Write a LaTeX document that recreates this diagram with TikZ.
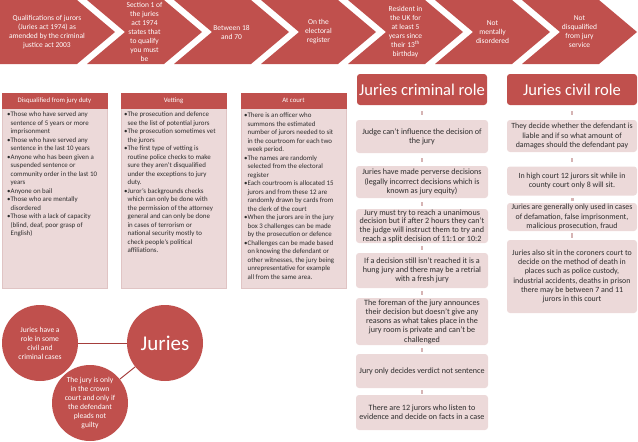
\documentclass[tikz,border=0pt]{standalone}
\usepackage{fontspec}
\setmainfont{Carlito}
\definecolor{jred}{RGB}{192,80,77}
\definecolor{jpink}{RGB}{236,217,217}
\definecolor{jpinkd}{RGB}{224,196,196}
\definecolor{jmark}{RGB}{214,180,180}
\definecolor{jline}{RGB}{165,62,60}
\definecolor{jtext}{RGB}{45,45,45}
\newcommand{\jci}{\hphantom{•}}
\tikzset{
  chevtext/.style={text=white, font=\fontsize{7.5}{9}\selectfont, align=center, inner sep=0},
  colhead/.style={fill=jred, draw=jred, line width=0.4, text=white, font=\fontsize{6.8}{7}\selectfont, minimum width=105, minimum height=15, inner sep=0},
  colbody/.style={fill=jpink, draw=jpinkd, line width=0.4, minimum width=105, minimum height=180, inner sep=0},
  coltext/.style={font=\fontsize{6.9}{8.5}\selectfont, align=left, inner sep=0, anchor=north west, text=jtext},
  rolehead/.style={fill=jred, rounded corners=3, text=white, font=\fontsize{16.5}{18}\selectfont, minimum height=31, inner sep=0},
  rolebox/.style={fill=jpink, rounded corners=3, text=jtext, font=\fontsize{8.1}{9.2}\selectfont, align=center, inner sep=0},
  rolemark/.style={fill=jmark, minimum width=2.5, minimum height=4, inner sep=0},
  jcircle/.style={circle, fill=jred, minimum size=76, inner sep=0, text=white, align=center, font=\fontsize{7.6}{9}\selectfont},
  jconn/.style={draw=jline, line width=1}
}
\begin{document}
\begin{tikzpicture}[x=1pt,y=-1pt]
\useasboundingbox (0,0) rectangle (638,442);
% chevrons
\fill[jred] (0,0) -- (77,0) -- (115,32) -- (77,64) -- (0,64) -- cycle;
\foreach \k in {1,...,6}{
  \fill[jred] ({87*\k},0) -- ({87*\k+77},0) -- ({87*\k+115},32) -- ({87*\k+77},64) -- ({87*\k},64) -- ({87*\k+38},32) -- cycle;
}
\node[chevtext] (c0) at (47,32) {Qualifications of jurors\\(Juries act 1974) as\\amended by the criminal\\justice act 2003};
\node[chevtext] (c1) at (144.5,32) {Section 1 of\\the juries\\act 1974\\states that\\to qualify\\you must\\be};
\node[chevtext] (c2) at (231.5,32) {Between 18\\and 70};
\node[chevtext] (c3) at (318.5,32) {On the\\electoral\\register};
\node[chevtext] (c4) at (405.5,32) {Resident in\\the UK for\\at least 5\\years since\\their 13\textsuperscript{th}\\birthday};
\node[chevtext] (c5) at (492.5,32) {Not\\mentally\\disordered};
\node[chevtext] (c6) at (579.5,32) {Not\\disqualified\\from jury\\service};
% columns
\node[colbody] (b1) at (54.5,198) {};
\node[colhead] (h1) at (54.5,100.5) {Disqualified from jury duty};
\node[colbody] (b2) at (173.5,198) {};
\node[colhead] (h2) at (173.5,100.5) {Vetting};
\node[colbody] (b3) at (293.5,198) {};
\node[colhead] (h3) at (293.5,100.5) {At court};
\node[coltext] (t1) at (7,112) {•Those who have served any\\
\jci sentence of 5 years or more\\
\jci imprisonment\\
•Those who have served any\\
\jci sentence in the last 10 years\\
•Anyone who has been given a\\
\jci suspended sentence or\\
\jci community order in the last 10\\
\jci years\\
•Anyone on bail\\
•Those who are mentally\\
\jci disordered\\
•Those with a lack of capacity\\
\jci (blind, deaf, poor grasp of\\
\jci English)};
\node[coltext] (t2) at (124,112) {•The prosecution and defence\\
\jci see the list of potential jurors\\
•The prosecution sometimes vet\\
\jci the jurors\\
•The first type of vetting is\\
\jci routine police checks to make\\
\jci sure they aren't disqualified\\
\jci under the exceptions to jury\\
\jci duty.\\
•Juror's backgrounds checks\\
\jci which can only be done with\\
\jci the permission of the attorney\\
\jci general and can only be done\\
\jci in cases of terrorism or\\
\jci national security mostly to\\
\jci check people's political\\
\jci affiliations.};
\node[coltext] (t3) at (244,113) {•There is an officer who\\
\jci summons the estimated\\
\jci number of jurors needed to sit\\
\jci in the courtroom for each two\\
\jci week period.\\
•The names are randomly\\
\jci selected from the electoral\\
\jci register\\
•Each courtroom is allocated 15\\
\jci jurors and from these 12 are\\
\jci randomly drawn by cards from\\
\jci the clerk of the court\\
•When the jurors are in the jury\\
\jci box 3 challenges can be made\\
\jci by the prosecution or defence\\
•Challenges can be made based\\
\jci on knowing the defendant or\\
\jci other witnesses, the jury being\\
\jci unrepresentative for example\\
\jci all from the same area.};
% criminal role
\node[rolehead, minimum width=130] (crh) at (422,89.5) {Juries criminal role};
\node[rolebox, minimum width=132, minimum height=33] (cr1) at (422,136.5) {Judge can't influence the decision of\\the jury};
\node[rolebox, minimum width=132, minimum height=32] (cr2) at (422,182) {Juries have made perverse decisions\\(legally incorrect decisions which is\\known as jury equity)};
\node[rolebox, minimum width=132, minimum height=34, font=\fontsize{8.1}{8.7}\selectfont] (cr3) at (422,226) {Jury must try to reach a unanimous\\decision but if after 2 hours they can't\\the judge will instruct them to try and\\reach a split decision of 11:1 or 10:2};
\node[rolebox, minimum width=132, minimum height=35] (cr4) at (422,270.5) {If a decision still isn't reached it is a\\hung jury and there may be a retrial\\with a fresh jury};
\node[rolebox, minimum width=132, minimum height=47] (cr5) at (422,321.5) {The foreman of the jury announces\\their decision but doesn't give any\\reasons as what takes place in the\\jury room is private and can't be\\challenged};
\node[rolebox, minimum width=132, minimum height=34] (cr6) at (422,371) {Jury only decides verdict not sentence};
\node[rolebox, minimum width=132, minimum height=35] (cr7) at (422,412.5) {There are 12 jurors who listen to\\evidence and decide on facts in a case};
\foreach \y/\n in {112.5/a,159.5/b,203.5/c,248/d,293/e,349.5/f,391.5/g}{
  \node[rolemark] (cm\n) at (422,\y) {};
}
% civil role
\node[rolehead, minimum width=130] (cvh) at (572,89.5) {Juries civil role};
\node[rolebox, minimum width=130, minimum height=32, font=\fontsize{7.9}{9.2}\selectfont] (cv1) at (572,136) {They decide whether the defendant is\\liable and if so what amount of\\damages should the defendant pay};
\node[rolebox, minimum width=130, minimum height=29, font=\fontsize{7.9}{9.2}\selectfont] (cv2) at (572,181) {In high court 12 jurors sit while in\\county court only 8 will sit.};
\node[rolebox, minimum width=130, minimum height=28, font=\fontsize{7.9}{9.2}\selectfont] (cv3) at (572,217) {Juries are generally only used in cases\\of defamation, false imprisonment,\\malicious prosecution, fraud};
\node[rolebox, minimum width=130, minimum height=73, font=\fontsize{7.9}{9.3}\selectfont] (cv4) at (572,276.5) {Juries also sit in the coroners court to\\decide on the method of death in\\places such as police custody,\\industrial accidents, deaths in prison\\there may be between 7 and 11\\jurors in this court};
\node[rolemark] (vma) at (572,112.5) {};
\node[rolemark] (vmb) at (572,159.5) {};
\node[rolemark, minimum height=3, minimum width=3] (vmc) at (572,199) {};
\node[rolemark, minimum height=5] (vmd) at (572,235.5) {};
% circles
\node[jcircle] (ca) at (40,343) {Juries have a\\role in some\\civil and\\criminal cases};
\node[jcircle, font=\fontsize{21}{24}\selectfont] (cj) at (165,343) {Juries};
\node[jcircle] (cb) at (90,403) {The jury is only\\in the crown\\court and only if\\the defendant\\pleads not\\guilty};
\draw[jconn] (ca) -- (cj);
\draw[jconn] (cb) -- (cj);
\end{tikzpicture}
\end{document}
